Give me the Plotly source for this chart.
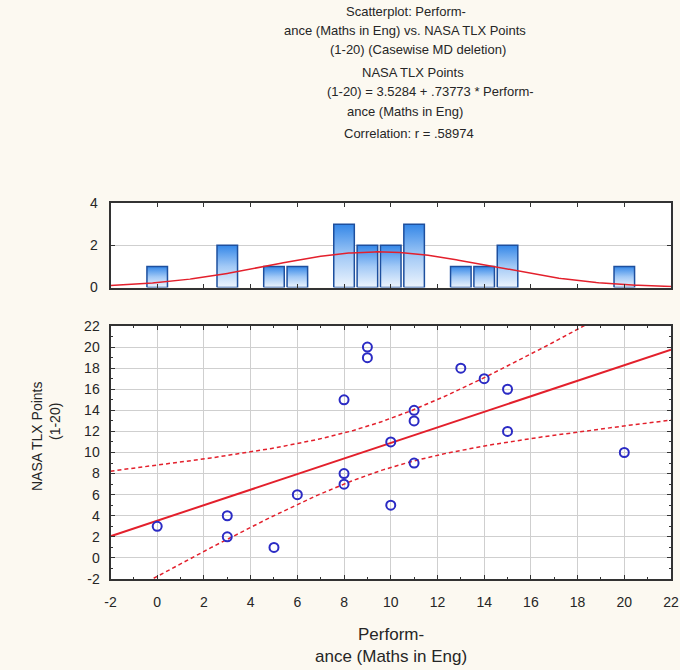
import numpy as np
import plotly.graph_objects as go

# ---- data -------------------------------------------------------------
performance = [0, 3, 3, 5, 6, 8, 8, 8, 9, 9, 10, 10, 11, 11, 11, 13, 14, 15, 15, 20]
tlx_points = [3, 4, 2, 1, 6, 15, 8, 7, 20, 19, 11, 5, 14, 13, 9, 18, 17, 16, 12, 10]

x_ticks = list(range(-2, 23, 2))
y_ticks = list(range(-2, 23, 2))
hist_ticks = [0, 2, 4]

title_lines = [
    "Scatterplot: Perform-",
    "ance (Maths in Eng) vs. NASA TLX Points",
    "(1-20) (Casewise MD deletion)",
    "NASA TLX Points",
    "(1-20) = 3.5284 + .73773 * Perform-",
    "ance (Maths in Eng)",
    "Correlation: r = .58974",
]
x_title_lines = ["Perform-", "ance (Maths in Eng)"]
y_title_lines = ["NASA TLX Points", "(1-20)"]

# ---- statistics -------------------------------------------------------
x = np.array(performance, dtype=float)
y = np.array(tlx_points, dtype=float)
n = len(x)
slope, intercept = np.polyfit(x, y, 1)
xbar = x.mean()
sxx = ((x - xbar) ** 2).sum()
resid = y - (intercept + slope * x)
s = np.sqrt((resid ** 2).sum() / (n - 2))
t95 = 2.10092  # t(0.975, 18)

xs = np.linspace(-2, 22, 241)
fit = intercept + slope * xs
half = t95 * s * np.sqrt(1 / n + (xs - xbar) ** 2 / sxx)

sd = x.std(ddof=1)
normal = n * 1.0 / (sd * np.sqrt(2 * np.pi)) * np.exp(-0.5 * ((xs - xbar) / sd) ** 2)

bins, counts = np.unique(x, return_counts=True)

# ---- figure -----------------------------------------------------------
W, H = 680, 670
BG = "#fcf9f1"
FRAME = "#333333"
GRID = "#cfcfcf"
RED = "#e3202c"
BLUE_MARK = "#2b2bc4"
FONT = "Liberation Sans, Arial, sans-serif"
TXT = "#262626"


def px_x(p):
    return p / W


def px_y(p):
    return 1 - p / H


def labels(vals):
    # plain hyphen for negatives
    return [str(v) for v in vals]


fig = go.Figure()

# histogram bars with vertical gradient
bw = 0.88
for c, h in zip(bins, counts):
    fig.add_trace(go.Scatter(
        x=[c - bw / 2, c - bw / 2, c + bw / 2, c + bw / 2, c - bw / 2],
        y=[0, h, h, 0, 0],
        mode="lines", fill="toself",
        fillgradient=dict(type="vertical",
                          colorscale=[[0, "#eef5fd"], [0.5, "#a2c9f6"], [1, "#3487e8"]]),
        line=dict(color="#1d4f9e", width=1.5),
        xaxis="x2", yaxis="y2", hoverinfo="skip", showlegend=False,
    ))

# fitted normal curve over the histogram
fig.add_trace(go.Scatter(x=xs, y=normal, mode="lines",
                         line=dict(color=RED, width=1.5),
                         xaxis="x2", yaxis="y2", showlegend=False))

# confidence bands and regression line
fig.add_trace(go.Scatter(x=xs, y=fit + half, mode="lines",
                         line=dict(color=RED, width=1.5, dash="4px,3px"),
                         showlegend=False))
fig.add_trace(go.Scatter(x=xs, y=fit - half, mode="lines",
                         line=dict(color=RED, width=1.5, dash="4px,3px"),
                         showlegend=False))
fig.add_trace(go.Scatter(x=xs, y=fit, mode="lines",
                         line=dict(color=RED, width=2), showlegend=False))

# observations
fig.add_trace(go.Scatter(x=performance, y=tlx_points, mode="markers",
                         marker=dict(symbol="circle-open", size=9, color=BLUE_MARK,
                                     line=dict(width=2, color=BLUE_MARK)),
                         showlegend=False))

x_dom = [px_x(110.5), px_x(671)]
tick_font = dict(family=FONT, size=14, color=TXT)

common_axis = dict(
    showline=True, linecolor=FRAME, linewidth=2, mirror="ticks",
    ticks="inside", ticklen=4, tickcolor=FRAME, tickwidth=1,
    zeroline=False, tickfont=tick_font, automargin=False,
)

fig.update_layout(
    width=W, height=H,
    margin=dict(l=0, r=0, t=0, b=0),
    paper_bgcolor=BG, plot_bgcolor="white",
    font=dict(family=FONT, size=13, color=TXT),
    showlegend=False,
    xaxis=dict(domain=x_dom, range=[-2, 22], tickvals=x_ticks, ticktext=labels(x_ticks),
               showgrid=True, gridcolor=GRID, gridwidth=1,
               ticklabelstandoff=9,
               minor=dict(ticks="inside", ticklen=2, dtick=1, tickcolor=FRAME, showgrid=False),
               anchor="y", **common_axis),
    yaxis=dict(domain=[px_y(579), px_y(326)], range=[-2, 22], tickvals=y_ticks,
               ticktext=labels(y_ticks),
               showgrid=True, gridcolor=GRID, gridwidth=1,
               ticklabelstandoff=6,
               minor=dict(ticks="inside", ticklen=2, dtick=1, tickcolor=FRAME, showgrid=False),
               anchor="x", **common_axis),
    xaxis2=dict(domain=x_dom, range=[-2, 22], tickvals=x_ticks,
                showgrid=False, showticklabels=False,
                anchor="y2", **common_axis),
    yaxis2=dict(domain=[px_y(287.5), px_y(203)], range=[0, 4], tickvals=hist_ticks,
                ticktext=labels(hist_ticks),
                showgrid=True, gridcolor=GRID, gridwidth=1,
                ticklabelstandoff=8,
                anchor="x2", **common_axis),
)

annotations = []
title_pos = [(406, 12), (405, 31), (418, 49), (413, 72), (430, 92), (405, 112), (409, 134)]
for text, (cx, cy) in zip(title_lines, title_pos):
    annotations.append(dict(text=text, x=px_x(cx), y=px_y(cy), xref="paper", yref="paper",
                            xanchor="center", yanchor="middle", showarrow=False,
                            font=dict(family=FONT, size=13, color=TXT)))
for text, cy in zip(x_title_lines, [634, 656]):
    annotations.append(dict(text=text, x=px_x(390.5), y=px_y(cy), xref="paper", yref="paper",
                            xanchor="center", yanchor="middle", showarrow=False,
                            font=dict(family=FONT, size=17, color=TXT)))
for text, (cx, cy) in zip(y_title_lines, [(37, 437), (55, 422)]):
    annotations.append(dict(text=text, x=px_x(cx), y=px_y(cy), xref="paper", yref="paper",
                            xanchor="center", yanchor="middle", showarrow=False, textangle=-90,
                            font=dict(family=FONT, size=14, color=TXT)))
fig.update_layout(annotations=annotations)

fig.write_html("out.html")
